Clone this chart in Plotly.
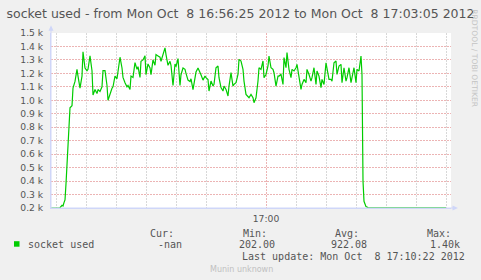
import pandas as pd
import plotly.graph_objects as go

# ---- data ----
start_time = "2012-10-08 16:56:25"
end_time = "2012-10-08 17:03:05"
offsets_s = [0, 9, 11, 12, 13, 14, 15, 17, 19, 21, 22, 24, 26, 27, 29, 31, 32, 34, 36, 37, 39, 41, 42, 44, 46, 47, 49,
             51, 52, 54, 56, 57, 59, 61, 62, 64, 66, 67, 69, 71, 72, 74, 76, 77, 79, 80, 82, 84, 86, 87, 89, 90, 92,
             94, 95, 97, 99, 100, 102, 104, 105, 107, 109, 110, 112, 114, 115, 117, 119, 120, 122, 124, 125, 127,
             129, 130, 132, 134, 135, 137, 139, 140, 142, 144, 145, 147, 149, 150, 152, 154, 155, 157, 158, 160,
             162, 163, 165, 167, 168, 170, 172, 173, 175, 177, 178, 180, 182, 183, 185, 187, 188, 190, 192, 193,
             195, 197, 198, 200, 202, 203, 205, 207, 208, 210, 212, 213, 215, 217, 218, 220, 222, 223, 225, 227,
             228, 230, 232, 233, 235, 236, 238, 240, 241, 243, 245, 246, 248, 250, 251, 253, 255, 256, 258, 260,
             261, 263, 265, 266, 268, 270, 271, 273, 275, 276, 278, 280, 281, 283, 285, 286, 288, 290, 291, 293,
             295, 296, 298, 300, 301, 303, 305, 306, 308, 310, 311, 312, 313, 315, 317, 320, 340, 360, 380, 395]
socket_used = [200, 202, 220, 215, 240, 260, 380, 700, 945, 960, 1090, 1140, 1230, 1180, 1090, 1180, 1360, 1240,
               1220, 1230, 1330, 1220, 1040, 1080, 1050, 1080, 1065, 1100, 1220, 1220, 1110, 1000, 1050, 1090,
               1100, 1180, 1160, 1230, 1320, 1240, 1170, 1130, 1100, 1110, 1080, 1180, 1170, 1280, 1230, 1250,
               1170, 1290, 1300, 1330, 1190, 1270, 1240, 1190, 1300, 1260, 1340, 1330, 1320, 1290, 1350, 1390,
               1340, 1260, 1290, 1260, 1110, 1270, 1250, 1310, 1110, 1190, 1240, 1230, 1200, 1150, 1140, 1160,
               1080, 1180, 1210, 1240, 1210, 1190, 1150, 1180, 1168, 1155, 1069, 1143, 1106, 1118, 1242, 1255,
               1168, 1094, 1069, 1106, 1081, 1032, 1106, 1205, 1106, 1118, 1131, 1192, 1304, 1292, 1230, 1143,
               1044, 1032, 1019, 1044, 1019, 982, 1019, 1143, 1242, 1230, 1292, 1168, 1192, 1255, 1329, 1242,
               1230, 1205, 1106, 1180, 1180, 1192, 1118, 1317, 1242, 1354, 1230, 1168, 1230, 1218, 1242, 1267,
               1168, 1081, 1118, 1155, 1131, 1230, 1192, 1143, 1168, 1242, 1118, 1218, 1180, 1094, 1155, 1118,
               1279, 1242, 1155, 1155, 1143, 1279, 1292, 1192, 1255, 1267, 1131, 1242, 1143, 1168, 1242, 1131,
               1168, 1242, 1131, 1230, 1218, 1329, 1190, 400, 250, 210, 203, 202, 202, 202, 202, 202]
y_tick_vals = [200, 300, 400, 500, 600, 700, 800, 900, 1000, 1100, 1200, 1300, 1400, 1500]
y_tick_text = ["0.2 k", "0.3 k", "0.4 k", "0.5 k", "0.6 k", "0.7 k", "0.8 k", "0.9 k", "1.0 k",
               "1.1 k", "1.2 k", "1.3 k", "1.4 k", "1.5 k"]
x_tick_vals = ["2012-10-08 17:00:00"]
x_tick_text = ["17:00"]
series_name = "socket used"
stat_headers = ["Cur:", "Min:", "Avg:", "Max:"]
stat_values = ["-nan", "202.00", "922.08", "1.40k"]
title_text = "socket used - from Mon Oct  8 16:56:25 2012 to Mon Oct  8 17:03:05 2012"
last_update = "Last update: Mon Oct  8 17:10:22 2012"

times = pd.Timestamp(start_time) + pd.to_timedelta(offsets_s, unit="s")

W, H = 481, 280
L, R, T, B = 51, 451, 33.3, 208.3


def px(x):
    return (x - L) / (R - L)


def py(y):
    return (B - y) / (B - T)


def nb(s):
    return s.replace(" ", "\u00a0")


FONT = "DejaVu Sans"
MONO = "DejaVu Sans Mono"
FCOL = "#555555"
AXIS_COL = "#CFD6F8"
GREEN = "#00CC00"
MGRID = "#ECB4B4"
GRID = "#D8D8D8"

fig = go.Figure()
fig.add_trace(go.Scatter(x=times, y=socket_used, mode="lines", name=series_name,
                         line=dict(color=GREEN, width=1.2), showlegend=False, hoverinfo="skip"))

fig.update_layout(
    width=W, height=H, autosize=False,
    margin=dict(l=L, r=W - R, t=T, b=H - B, pad=0),
    paper_bgcolor="#F0F0F0", plot_bgcolor="#FFFFFF",
    font=dict(family=FONT, color=FCOL, size=9.2),
    title=dict(text=nb(title_text), x=0.5, xref="container", xanchor="center",
               y=1 - 13.5 / H, yanchor="middle", font=dict(family=FONT, size=12.5, color=FCOL)),
)

fig.update_xaxes(
    range=[start_time, end_time], type="date",
    tickmode="array", tickvals=x_tick_vals, ticktext=x_tick_text,
    showgrid=True, gridcolor=MGRID, griddash="1.5px,1.5px", gridwidth=1,
    minor=dict(tickmode="linear", tick0="2012-10-08 16:56:30", dtick=30000,
               showgrid=True, gridcolor=GRID, griddash="1.5px,1.5px", gridwidth=1, ticklen=0),
    showline=True, linecolor=AXIS_COL, linewidth=1,
    ticks="outside", ticklen=2, tickcolor="rgba(0,0,0,0)",
    tickfont=dict(family=FONT, size=9.2, color=FCOL), zeroline=False,
)
fig.update_yaxes(
    range=[200, 1500],
    tickmode="array", tickvals=y_tick_vals, ticktext=y_tick_text,
    showgrid=True, gridcolor=MGRID, griddash="1.5px,1.5px", gridwidth=1,
    showline=True, linecolor=AXIS_COL, linewidth=1,
    ticks="outside", ticklen=5, tickcolor="rgba(0,0,0,0)",
    tickfont=dict(family=FONT, size=9.2, color=FCOL), zeroline=False,
)

shapes = [
    # axis extensions + arrows
    dict(type="line", xref="paper", yref="paper", x0=px(L), x1=px(L), y0=py(B), y1=py(29),
         line=dict(color=AXIS_COL, width=1)),
    dict(type="path", xref="paper", yref="paper",
         path=f"M {px(48.5)} {py(31)} L {px(53.5)} {py(31)} L {px(51)} {py(25.5)} Z",
         fillcolor=AXIS_COL, line=dict(width=0)),
    dict(type="line", xref="paper", yref="paper", x0=px(L), x1=px(454), y0=py(B), y1=py(B),
         line=dict(color=AXIS_COL, width=1)),
    dict(type="path", xref="paper", yref="paper",
         path=f"M {px(452.5)} {py(B - 2.5)} L {px(452.5)} {py(B + 2.5)} L {px(458)} {py(B)} Z",
         fillcolor=AXIS_COL, line=dict(width=0)),
    # legend square
    dict(type="rect", xref="paper", yref="paper", x0=px(14), x1=px(19.5), y0=py(241.5), y1=py(247),
         fillcolor=GREEN, line=dict(width=0)),
]
fig.update_layout(shapes=shapes)

ann = []


def text(x, y, s, anchor="left", family=MONO, size=10, color=FCOL, angle=0):
    ann.append(dict(xref="paper", yref="paper", x=px(x), y=py(y), text=nb(s), showarrow=False,
                    xanchor=anchor, yanchor="middle", textangle=angle,
                    font=dict(family=family, size=size, color=color)))


header_right = [176, 269, 361, 453]
value_right = [184, 277, 369, 462]
for hx, h in zip(header_right, stat_headers):
    text(hx, 233.5, h, anchor="right")
for vx, v in zip(value_right, stat_values):
    text(vx, 245, v, anchor="right")
text(26, 245, series_name, anchor="left")
text(467, 257, last_update, anchor="right")
text(241, 269.5, "Munin unknown", anchor="center", family=FONT, size=8, color="#C0C0C0")
text(474.5, 59, "RRDTOOL / TOBI OETIKER", anchor="center", family=FONT, size=7.6, color="#C4C4C4", angle=90)
fig.update_layout(annotations=ann)

fig.write_html("out.html")
